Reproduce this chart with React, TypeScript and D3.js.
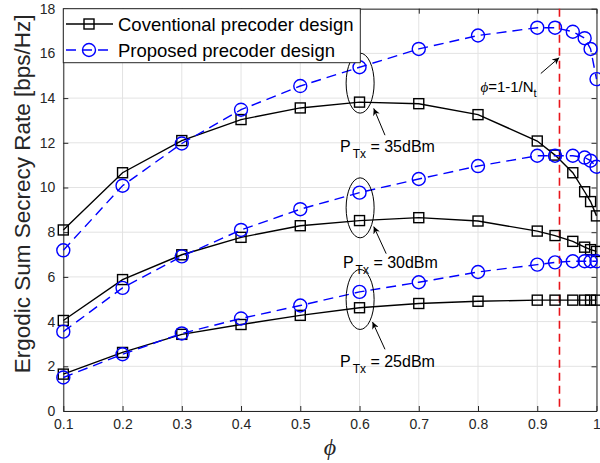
import React, { useEffect, useRef } from "react";
import * as d3 from "d3";

// phi values (power splitting factor)
const phi = [0.1, 0.2, 0.3, 0.4, 0.5, 0.6, 0.7, 0.8, 0.9, 0.93, 0.96, 0.98, 0.99, 1.0];

// PTx = 35dBm
const conv35 = [8.1, 10.66, 12.1, 13.04, 13.56, 13.82, 13.75, 13.26, 12.08, 11.45, 10.66, 9.81, 9.37, 8.73];
const prop35 = [7.19, 10.08, 11.97, 13.48, 14.54, 15.38, 16.2, 16.8, 17.15, 17.15, 16.97, 16.68, 16.2, 14.85];
// PTx = 30dBm
const conv30 = [4.05, 5.88, 6.99, 7.77, 8.29, 8.52, 8.65, 8.5, 8.05, 7.85, 7.59, 7.33, 7.22, 7.14];
const prop30 = [3.55, 5.51, 6.92, 8.1, 9.03, 9.77, 10.38, 10.96, 11.42, 11.42, 11.42, 11.34, 11.2, 10.93];
// PTx = 25dBm
const conv25 = [1.65, 2.62, 3.43, 3.87, 4.28, 4.62, 4.81, 4.91, 4.96, 4.96, 4.96, 4.96, 4.96, 4.96];
const prop25 = [1.5, 2.54, 3.47, 4.14, 4.72, 5.33, 5.76, 6.22, 6.55, 6.65, 6.7, 6.7, 6.7, 6.7];

const xTicks = [0.1, 0.2, 0.3, 0.4, 0.5, 0.6, 0.7, 0.8, 0.9, 1];
const yTicks = [0, 2, 4, 6, 8, 10, 12, 14, 16, 18];
const legendLabels = ["Coventional precoder design", "Proposed precoder design"];
const Nt = 16;

// power annotations: ellipse centre, arrow tail/tip, label anchor (data units)
const powerLabels = ["35dBm", "30dBm", "25dBm"];
const ellipseCenters = [[0.601, 14.67], [0.601, 9.09], [0.601, 4.99]];
const arrowTails = [[0.643, 12.34], [0.645, 7.04], [0.643, 2.76]];
const arrowTips = [[0.624, 13.54], [0.624, 8.25], [0.622, 3.98]];
const labelAnchors = [[0.567, 11.6], [0.572, 6.41], [0.567, 1.96]];

const App = () => {
  const svgRef = useRef(null);
  const width = 600;
  const height = 463;
  const margin = { top: 8.7, right: 3.5, bottom: 52, left: 63.3 };

  useEffect(() => {
    const svg = d3.select(svgRef.current);
    svg.selectAll("*").remove();

    const font = "'Liberation Sans', Arial, Helvetica, sans-serif";
    const axisColor = "#262626";
    const x0 = margin.left;
    const x1 = width - margin.right;
    const y0 = height - margin.bottom;
    const y1 = margin.top;

    const xScale = d3.scaleLinear().domain([0.1, 1]).range([x0, x1]);
    const yScale = d3.scaleLinear().domain([0, 18]).range([y0, y1]);

    svg.append("rect").attr("width", width).attr("height", height).attr("fill", "white");

    const defs = svg.append("defs");
    defs
      .append("marker")
      .attr("id", "arrow")
      .attr("viewBox", "0 0 10 10")
      .attr("refX", 10)
      .attr("refY", 5)
      .attr("markerWidth", 9)
      .attr("markerHeight", 7)
      .attr("markerUnits", "userSpaceOnUse")
      .attr("orient", "auto")
      .append("path")
      .attr("d", "M0,0 L10,5 L0,10 L3,5 Z")
      .attr("fill", "black");

    // grid
    const grid = svg.append("g").attr("stroke", "#e3e3e3").attr("stroke-width", 1);
    grid
      .selectAll(".gx")
      .data(xTicks)
      .enter()
      .append("line")
      .attr("x1", (d) => xScale(d))
      .attr("x2", (d) => xScale(d))
      .attr("y1", y1)
      .attr("y2", y0);
    grid
      .selectAll(".gy")
      .data(yTicks)
      .enter()
      .append("line")
      .attr("x1", x0)
      .attr("x2", x1)
      .attr("y1", (d) => yScale(d))
      .attr("y2", (d) => yScale(d));

    // axes (inward ticks, boxed)
    const styleAxis = (g) => {
      g.selectAll("path").attr("stroke", axisColor).attr("stroke-width", 1);
      g.selectAll("line").attr("stroke", axisColor);
      g.selectAll("text")
        .attr("fill", axisColor)
        .style("font-family", font)
        .style("font-size", "14px");
    };

    svg
      .append("g")
      .attr("transform", `translate(0, ${y0})`)
      .call(
        d3.axisBottom(xScale).tickValues(xTicks).tickFormat((d) => String(d)).tickSizeInner(-5).tickSizeOuter(0).tickPadding(8)
      )
      .call(styleAxis);
    svg
      .append("g")
      .attr("transform", `translate(0, ${y1})`)
      .call(d3.axisTop(xScale).tickValues(xTicks).tickFormat(() => "").tickSizeInner(-5).tickSizeOuter(0))
      .call(styleAxis);
    svg
      .append("g")
      .attr("transform", `translate(${x0}, 0)`)
      .call(d3.axisLeft(yScale).tickValues(yTicks).tickFormat((d) => String(d)).tickSizeInner(-5).tickSizeOuter(0).tickPadding(8))
      .call(styleAxis);
    svg
      .append("g")
      .attr("transform", `translate(${x1}, 0)`)
      .call(d3.axisRight(yScale).tickValues(yTicks).tickFormat(() => "").tickSizeInner(-5).tickSizeOuter(0))
      .call(styleAxis);

    // axis labels
    svg
      .append("text")
      .attr("transform", `translate(22, ${(y0 + y1) / 2 - 16}) rotate(-90)`)
      .attr("text-anchor", "middle")
      .attr("dominant-baseline", "central")
      .attr("fill", axisColor)
      .style("font-family", font)
      .style("font-size", "22.5px")
      .text("Ergodic Sum Secrecy Rate [bps/Hz]");
    svg
      .append("text")
      .attr("x", (x0 + x1) / 2)
      .attr("y", 455)
      .attr("text-anchor", "middle")
      .attr("fill", axisColor)
      .style("font-family", "'Liberation Serif', 'Times New Roman', serif")
      .style("font-style", "italic")
      .style("font-size", "24px")
      .text("\u03d5");

    // red vertical line at phi = 1 - 1/Nt
    svg
      .append("line")
      .attr("x1", xScale(1 - 1 / Nt))
      .attr("x2", xScale(1 - 1 / Nt))
      .attr("y1", y1)
      .attr("y2", y0)
      .attr("stroke", "#e8151b")
      .attr("stroke-width", 1.6)
      .attr("stroke-dasharray", "8,5");

    const lineGenerator = d3
      .line()
      .x((d) => xScale(d[0]))
      .y((d) => yScale(d[1]));

    const drawConv = (vals) => {
      const pts = phi.map((p, i) => [p, vals[i]]);
      svg
        .append("path")
        .attr("d", lineGenerator(pts))
        .attr("fill", "none")
        .attr("stroke", "black")
        .attr("stroke-width", 1.4);
      svg
        .append("g")
        .selectAll("rect")
        .data(pts)
        .enter()
        .append("rect")
        .attr("x", (d) => xScale(d[0]) - 5)
        .attr("y", (d) => yScale(d[1]) - 5)
        .attr("width", 10)
        .attr("height", 10)
        .attr("fill", "none")
        .attr("stroke", "black")
        .attr("stroke-width", 1.4);
    };

    const drawProp = (vals) => {
      const pts = phi.map((p, i) => [p, vals[i]]);
      svg
        .append("path")
        .attr("d", lineGenerator(pts))
        .attr("fill", "none")
        .attr("stroke", "#0000ff")
        .attr("stroke-width", 1.4)
        .attr("stroke-dasharray", "10,6");
      svg
        .append("g")
        .selectAll("circle")
        .data(pts)
        .enter()
        .append("circle")
        .attr("cx", (d) => xScale(d[0]))
        .attr("cy", (d) => yScale(d[1]))
        .attr("r", 6.5)
        .attr("fill", "none")
        .attr("stroke", "#0000ff")
        .attr("stroke-width", 1.4);
    };

    [conv35, conv30, conv25].forEach(drawConv);
    [prop35, prop30, prop25].forEach(drawProp);

    // power annotations
    powerLabels.forEach((lab, i) => {
      svg
        .append("ellipse")
        .attr("cx", xScale(ellipseCenters[i][0]))
        .attr("cy", yScale(ellipseCenters[i][1]))
        .attr("rx", 14)
        .attr("ry", 30)
        .attr("fill", "none")
        .attr("stroke", "black")
        .attr("stroke-width", 1);
      svg
        .append("line")
        .attr("x1", xScale(arrowTails[i][0]))
        .attr("y1", yScale(arrowTails[i][1]))
        .attr("x2", xScale(arrowTips[i][0]))
        .attr("y2", yScale(arrowTips[i][1]))
        .attr("stroke", "black")
        .attr("stroke-width", 1)
        .attr("marker-end", "url(#arrow)");
      const t = svg
        .append("text")
        .attr("x", xScale(labelAnchors[i][0]))
        .attr("y", yScale(labelAnchors[i][1]))
        .attr("fill", "black")
        .style("font-family", font)
        .style("font-size", "16px");
      t.append("tspan").text("P");
      t.append("tspan").attr("dy", 6).attr("dx", 2).style("font-size", "12px").text("Tx");
      t.append("tspan").attr("dy", -6).text(" = " + lab);
    });

    // phi = 1 - 1/Nt annotation
    const nt = svg
      .append("text")
      .attr("x", xScale(0.804))
      .attr("y", yScale(14.27))
      .attr("fill", "black")
      .style("font-family", font)
      .style("font-size", "15px");
    nt.append("tspan")
      .style("font-family", "'Liberation Serif', 'Times New Roman', serif")
      .style("font-style", "italic")
      .text("\u03d5");
    nt.append("tspan").text("=1-1/N");
    nt.append("tspan").attr("dy", 5).style("font-size", "11px").text("t");
    svg
      .append("line")
      .attr("x1", xScale(0.906))
      .attr("y1", yScale(15.1))
      .attr("x2", xScale(0.937))
      .attr("y2", yScale(15.81))
      .attr("stroke", "black")
      .attr("stroke-width", 1)
      .attr("marker-end", "url(#arrow)");

    // legend
    const lg = svg.append("g");
    lg.append("rect")
      .attr("x", x0)
      .attr("y", y1)
      .attr("width", 297)
      .attr("height", 54)
      .attr("fill", "white")
      .attr("stroke", axisColor)
      .attr("stroke-width", 1);
    const rows = [24, 50];
    lg.append("line").attr("x1", 66).attr("x2", 113).attr("y1", rows[0]).attr("y2", rows[0]).attr("stroke", "black").attr("stroke-width", 1.4);
    lg.append("rect").attr("x", 84).attr("y", rows[0] - 5).attr("width", 10).attr("height", 10).attr("fill", "none").attr("stroke", "black").attr("stroke-width", 1.4);
    lg.append("line").attr("x1", 66).attr("x2", 113).attr("y1", rows[1]).attr("y2", rows[1]).attr("stroke", "#0000ff").attr("stroke-width", 1.4).attr("stroke-dasharray", "10,6");
    lg.append("circle").attr("cx", 89).attr("cy", rows[1]).attr("r", 6.5).attr("fill", "none").attr("stroke", "#0000ff").attr("stroke-width", 1.4);
    legendLabels.forEach((l, i) => {
      lg.append("text")
        .attr("x", 118)
        .attr("y", rows[i])
        .attr("dominant-baseline", "central")
        .attr("fill", "black")
        .style("font-family", font)
        .style("font-size", "18.5px")
        .text(l);
    });
  }, []);

  return (
    <svg
      ref={svgRef}
      width={width}
      height={height}
      style={{ position: "absolute", left: 0, top: 0 }}
    />
  );
};

export default App;
